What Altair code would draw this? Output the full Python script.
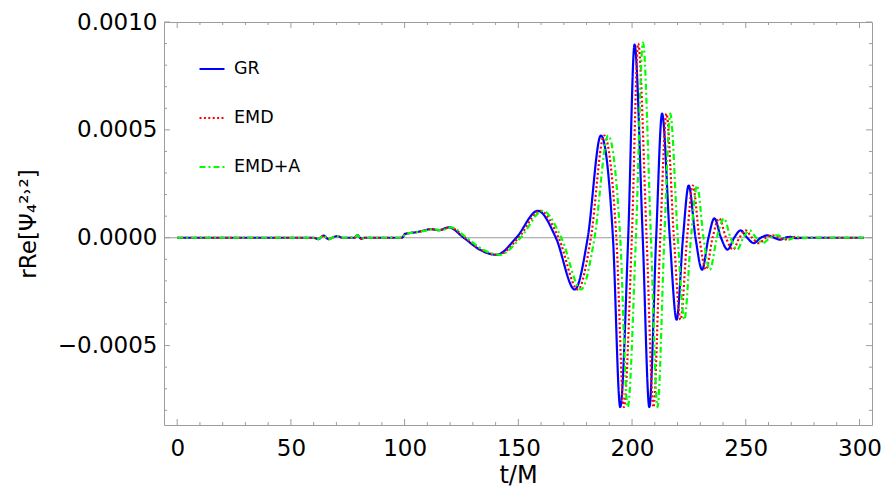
import altair as alt
import pandas as pd

# ---------------- data ----------------
GR_T = [0, 60, 62, 64.5, 66.5, 68.5, 70.5, 72.5, 78, 79.2, 80.8, 82.5, 98.8, 100.2, 104, 108, 111.4, 115, 119.4, 126,
        133, 140.4, 149.1, 158.6, 166.5, 174.8, 180.5, 186.3, 191.6, 194.8, 198.3, 201.1, 204.7, 207.6, 210.6, 213.2,
        216.6, 219.6, 222.4, 224.9, 227.9, 230.8, 233.6, 236.2, 239.1, 242.0, 244.9, 247.7, 250.6, 253.5, 256.6, 259.7,
        262.4, 265.1, 267.3, 269.4, 272, 275, 302]
GR_V = [0, 0, -0.6e-5, 1.0e-5, -0.7e-5, 0.2e-5, 0.8e-5, 0, 0, 1.2e-5, -0.4e-5, 0, 0, 1.8e-5, 2.4e-5, 3.2e-5, 4.0e-5,
        3.5e-5, 4.8e-5, 0, -5.5e-5, -7.9e-5, 0, 12.5e-5, 0, -24e-5, 0, 47.4e-5, 0, -78.5e-5, 0, 89.5e-5, 0, -78.5e-5, 0,
        57.5e-5, 0, -38e-5, 0, 24.2e-5, 0, -14.8e-5, 0, 9.0e-5, 0, -5.5e-5, 0, 3.4e-5, 0, -2.5e-5, 0, 1.1e-5, 0,
        -0.9e-5, 0, 0.4e-5, -0.2e-5, 0, 0]

EMD_T = [0, 60, 62, 64.5, 66.5, 68.5, 70.5, 72.5, 78, 79.2, 80.8, 82.5, 98.8, 100.3, 104.2, 108.3, 111.8, 115.4, 119.9,
         126.6, 133.7, 141.2, 150.1, 159.7, 167.7, 176.2, 181.9, 187.7, 193.1, 196.4, 199.9, 202.7, 206.4, 209.4, 212.4,
         215.1, 218.4, 221.3, 224.2, 226.7, 229.6, 232.5, 235.4, 238.3, 241.3, 244.4, 247.2, 249.9, 252.8, 255.7, 258.8,
         261.9, 264.5, 267.1, 269.4, 271.6, 274.2, 277.2, 302]
EMD_V = [0, 0, -0.6e-5, 1.0e-5, -0.7e-5, 0.2e-5, 0.8e-5, 0, 0, 1.2e-5, -0.4e-5, 0, 0, 1.8e-5, 2.4e-5, 3.2e-5, 4.0e-5,
         3.5e-5, 4.8e-5, 0, -5.5e-5, -7.9e-5, 0, 12.5e-5, 0, -24e-5, 0, 47.4e-5, 0, -78.5e-5, 0, 90.0e-5, 0, -78.5e-5, 0,
         57.5e-5, 0, -38e-5, 0, 24.2e-5, 0, -14.8e-5, 0, 9.0e-5, 0, -5.5e-5, 0, 3.4e-5, 0, -2.5e-5, 0, 1.1e-5, 0,
         -0.9e-5, 0, 0.4e-5, -0.2e-5, 0, 0]

EMDA_T = [0, 60, 62, 64.5, 66.5, 68.5, 70.5, 72.5, 78, 79.2, 80.8, 82.5, 98.8, 100.4, 104.5, 108.7, 112.2, 115.9, 120.4,
          127.2, 134.4, 142.0, 151.0, 160.8, 168.9, 177.6, 183.5, 189.5, 194.8, 198.1, 201.7, 204.8, 208.3, 211.2, 214.2,
          216.8, 220.1, 223.0, 225.9, 228.6, 231.4, 234.2, 237.3, 240.4, 243.3, 246.2, 248.9, 251.7, 254.6, 257.5, 260.7,
          264.0, 266.4, 268.7, 271.1, 273.4, 276, 279, 302]
EMDA_V = [0, 0, -0.6e-5, 1.0e-5, -0.7e-5, 0.2e-5, 0.8e-5, 0, 0, 1.2e-5, -0.4e-5, 0, 0, 1.8e-5, 2.4e-5, 3.2e-5, 4.0e-5,
          3.5e-5, 4.8e-5, 0, -5.5e-5, -7.9e-5, 0, 12.5e-5, 0, -24e-5, 0, 47.4e-5, 0, -78.5e-5, 0, 90.5e-5, 0, -78.5e-5, 0,
          57.5e-5, 0, -38e-5, 0, 24.2e-5, 0, -14.8e-5, 0, 9.0e-5, 0, -5.5e-5, 0, 3.4e-5, 0, -2.5e-5, 0, 1.1e-5, 0,
          -0.9e-5, 0, 0.4e-5, -0.2e-5, 0, 0]

SERIES = ["GR", "EMD", "EMD+A"]
COLORS = ["#0000ff", "#ff0000", "#00ff00"]
DASHES = [[1, 0], [2, 2.4], [6, 3, 2, 3]]

X_LABELS = [0, 50, 100, 150, 200, 250, 300]
X_MINOR = [t for t in range(0, 301, 10) if t % 50 != 0]
Y_LABELS = [-0.0005, 0.0, 0.0005, 0.0010]
Y_MINOR = [-0.0008, -0.0007, -0.0006, -0.0004, -0.0003, -0.0002, -0.0001,
           0.0001, 0.0002, 0.0003, 0.0004, 0.0006, 0.0007, 0.0008, 0.0009]
Y_MAJOR = [-0.0005, 0.0, 0.0005, 0.0010]

X_DOMAIN = [-5.8, 305.5]
Y_DOMAIN = [-0.000868, 0.0010]

W, H = 708, 403
FONT = "DejaVu Sans"
FRAME = "#9d9d9d"

# ---------------- tables ----------------
rows = []
for name, ts, vs in [("GR", GR_T, GR_V), ("EMD", EMD_T, EMD_V), ("EMD+A", EMDA_T, EMDA_V)]:
    for t, v in zip(ts, vs):
        rows.append({"t": t, "v": v, "series": name})
df = pd.DataFrame(rows)

xscale = alt.Scale(domain=X_DOMAIN, nice=False, zero=False)
yscale = alt.Scale(domain=Y_DOMAIN, nice=False, zero=False)

xaxis = alt.Axis(values=X_LABELS, ticks=False, domain=False, grid=False, labelFont=FONT, labelFontSize=23,
                 labelColor="black", labelPadding=12, title="t/M", titleFont=FONT, titleFontSize=24,
                 titleFontWeight="normal", titleColor="black", titlePadding=3)
yaxis = alt.Axis(values=Y_LABELS, format=".4f", ticks=False, domain=False, grid=False, labelFont=FONT,
                 labelFontSize=23, labelColor="black", labelPadding=7,
                 title="rRe[Ψ₄²˒²]", titleFont=FONT, titleFontSize=23, titleFontWeight="normal",
                 titleColor="black", titlePadding=17)

legend = alt.Legend(orient="none", legendX=34, legendY=33, title=None, symbolType="stroke", symbolSize=625,
                    symbolStrokeWidth=2.2, labelFont=FONT, labelFontSize=17.5, labelColor="black",
                    rowPadding=26, labelOffset=8)

color = alt.Color("series:N", scale=alt.Scale(domain=SERIES, range=COLORS), legend=legend)
dash = alt.StrokeDash("series:N", scale=alt.Scale(domain=SERIES, range=DASHES), legend=legend)

zero = alt.Chart(pd.DataFrame({"v": [0.0]})).mark_rule(color="#999999", strokeWidth=1).encode(
    y=alt.Y("v:Q", scale=yscale, axis=yaxis))

lines = []
for s in SERIES:
    lines.append(
        alt.Chart(df).transform_filter(alt.datum.series == s).mark_line(
            interpolate="monotone", strokeWidth=2.2).encode(
            x=alt.X("t:Q", scale=xscale, axis=xaxis),
            y=alt.Y("v:Q", scale=yscale, axis=yaxis),
            color=color, strokeDash=dash)
    )

def xticks(vals, length):
    d = pd.DataFrame({"t": vals})
    bottom = alt.Chart(d).mark_rule(color=FRAME, strokeWidth=1).encode(
        x=alt.X("t:Q", scale=xscale, axis=xaxis), y=alt.value(H), y2=alt.value(H - length))
    top = alt.Chart(d).mark_rule(color=FRAME, strokeWidth=1).encode(
        x=alt.X("t:Q", scale=xscale, axis=xaxis), y=alt.value(0), y2=alt.value(length))
    return [bottom, top]

def yticks(vals, length):
    d = pd.DataFrame({"v": vals})
    left = alt.Chart(d).mark_rule(color=FRAME, strokeWidth=1).encode(
        y=alt.Y("v:Q", scale=yscale, axis=yaxis), x=alt.value(0), x2=alt.value(length))
    right = alt.Chart(d).mark_rule(color=FRAME, strokeWidth=1).encode(
        y=alt.Y("v:Q", scale=yscale, axis=yaxis), x=alt.value(W), x2=alt.value(W - length))
    return [left, right]

layers = [zero] + lines + xticks(X_LABELS, 6) + xticks(X_MINOR, 3) + yticks(Y_MAJOR, 6) + yticks(Y_MINOR, 3)

chart = alt.layer(*layers).properties(
    width=W, height=H,
    autosize=alt.AutoSizeParams(type="none"),
    padding={"left": 156, "top": 14, "right": 11, "bottom": 64},
    background="white",
).configure_view(stroke=FRAME, strokeWidth=1)

chart.save("out.html", embed_options={"renderer": "svg", "actions": False})
